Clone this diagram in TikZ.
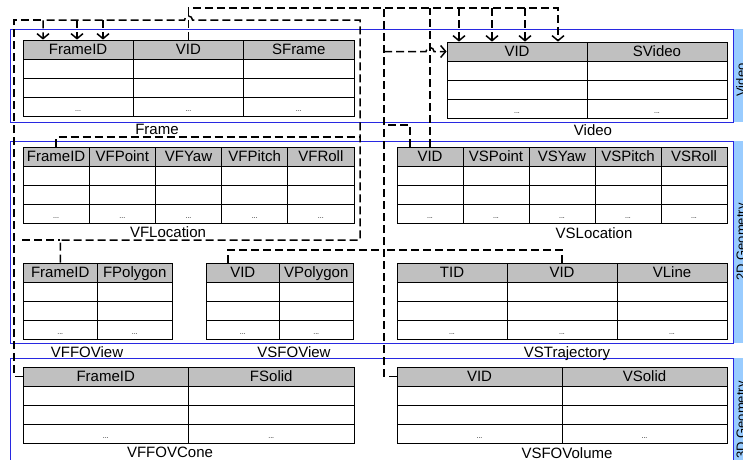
\documentclass[tikz,border=0pt]{standalone}
\usepackage{fontspec}
\setmainfont{Liberation Sans}
\usetikzlibrary{arrows.meta}
\definecolor{headgray}{RGB}{192,192,192}
\definecolor{layerblue}{RGB}{40,40,225}
\definecolor{striplight}{RGB}{153,204,255}
\tikzset{
  hcell/.style={draw, fill=headgray, line width=0.8pt, inner sep=0pt, minimum height=19pt,
    text height=10.5pt, text depth=1pt, font=\fontsize{15}{17}\selectfont},
  cell/.style={draw, fill=white, line width=0.8pt, inner sep=0pt, minimum height=19pt},
  dots/.style={inner sep=0pt, font=\fontsize{7}{8}\selectfont},
  tlabel/.style={inner sep=0pt, anchor=base, font=\fontsize{15}{17}\selectfont},
  tag/.style={inner sep=0pt, rotate=90, anchor=base, font=\fontsize{13}{15}\selectfont},
  layer/.style={draw=layerblue, line width=0.9pt},
  fk/.style={line width=1.5pt, dash pattern=on 8pt off 4pt},
  fkarrow/.style={fk, -{Straight Barb[length=5pt, width=12pt]}},
}
% name, left, top, column width, headers
\newcommand{\dbtable}[5]{
  \foreach \h [count=\i] in {#5} {
    \node[hcell, minimum width=#4] (#1-\i) at ({#2+(\i-0.5)*#4}, {#3+9.5}) {\h};
    \foreach \r in {1,2,3}
      \node[cell, minimum width=#4] (#1-\i-r\r) at ({#2+(\i-0.5)*#4}, {#3+9.5+19*\r}) {};
    \node[dots] (#1-\i-d) at ({#2+(\i-0.5)*#4}, {#3+71}) {...};
  }
}

\begin{document}
\begin{tikzpicture}[x=1pt, y=-1pt]
  \useasboundingbox (0,0) rectangle (743,459);
  \clip (0,0) rectangle (743,459);

  % layers
  \draw[layer] (10,29) rectangle (733,122);
  \draw[layer] (10,141) rectangle (733,343);
  \draw[layer] (10,358) rectangle (733,490);
  \fill[striplight] (734,29) rectangle (750,122);
  \fill[striplight] (734,141) rectangle (750,343);
  \fill[striplight] (734,358) rectangle (750,490);
  \node[tag] (video-tag) at (745.5,80) {Video};
  \node[tag] (geo2-tag) at (745.5,242) {2D Geometry};
  \node[tag] (geo3-tag) at (745.5,420) {3D Geometry};

  % tables
  \dbtable{Frame}{23}{40}{110.3}{FrameID,VID,SFrame}
  \dbtable{Video}{447}{42}{140}{VID,SVideo}
  \dbtable{VFLocation}{23}{147}{66.2}{FrameID,VFPoint,VFYaw,VFPitch,VFRoll}
  \dbtable{VSLocation}{397}{147}{66}{VID,VSPoint,VSYaw,VSPitch,VSRoll}
  \dbtable{VFFOView}{23}{263}{74.5}{FrameID,FPolygon}
  \dbtable{VSFOView}{206}{263}{73.5}{VID,VPolygon}
  \dbtable{VSTrajectory}{397}{263}{110}{TID,VID,VLine}
  \dbtable{VFFOVCone}{23}{367}{165.5}{FrameID,FSolid}
  \dbtable{VSFOVolume}{397}{367}{165}{VID,VSolid}

  \node[tlabel] (Frame-name) at (157,134) {Frame};
  \node[tlabel] (Video-name) at (593,135.5) {Video};
  \node[tlabel] (VFLocation-name) at (168,237.5) {VFLocation};
  \node[tlabel] (VSLocation-name) at (594,238.5) {VSLocation};
  \node[tlabel] (VFFOView-name) at (87,357.5) {VFFOView};
  \node[tlabel] (VSFOView-name) at (294,357.5) {VSFOView};
  \node[tlabel] (VSTrajectory-name) at (567,357.5) {VSTrajectory};
  \node[tlabel] (VFFOVCone-name) at (170,457.5) {VFFOVCone};
  \node[tlabel] (VSFOVolume-name) at (567,458) {VSFOVolume};

  % FrameID references
  \coordinate (fl) at (14,20);
  \coordinate (f1) at (43,20);
  \coordinate (f2) at (77,20);
  \coordinate (f3) at (103,20);
  \coordinate (fr) at (360,20);
  \coordinate (fm) at (360,137);
  \coordinate (fb) at (360,240);
  \coordinate (fstub) at (22,240);
  \draw[fkarrow] (VFFOView-1.north) |- (fb) -- (fr) -- (192.5,20) arc (0:-180:4) -- (f1) -- (f1 |- Frame-1.north);
  \draw[fk] (fstub) -- (VFFOView-1.north |- fb);
  \draw[fk] (VFLocation-1.north) |- (fm);
  \draw[fk] (VFFOVCone-1.west) -| (fl) -- (f1);
  \draw[fkarrow] (f2) -- (f2 |- Frame-1.north);
  \draw[fkarrow] (f3) -- (f3 |- Frame-1.north);

  % VID references
  \coordinate (v1) at (459,8);
  \coordinate (v2) at (492,8);
  \coordinate (v3) at (525,8);
  \coordinate (v4) at (558,8);
  \coordinate (t8) at (384,8);
  \coordinate (t52) at (384,51.5);
  \coordinate (t125) at (384,125);
  \coordinate (t250) at (384,250);
  \coordinate (s1) at (410,125);
  \coordinate (b1) at (228,250);
  \draw[fkarrow] (Frame-2.north) |- (v4) -- (v4 |- Video-1.north);
  \draw[fk] (VSFOVolume-1.west) -| (t8);
  \draw[fk] (VSLocation-1.north) -- (VSLocation-1.north |- t8);
  \draw[fk] (s1 |- VSLocation-1.north) -- (s1) -- (t125);
  \draw[fk] (b1 |- VSFOView-1.north) -- (b1) -- (t250);
  \draw[fk] (VSTrajectory-2.north) |- (t250);
  \draw[fkarrow] (t52) -- (426,51.5) arc (180:360:4) -- (Video-1.west);
  \foreach \v in {v1,v2,v3}
    \draw[fkarrow] (\v) -- (\v |- Video-1.north);
\end{tikzpicture}
\end{document}
